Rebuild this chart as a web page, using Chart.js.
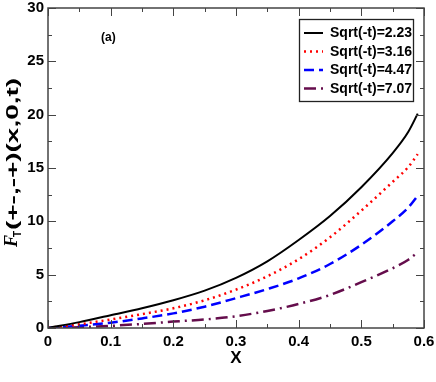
<!DOCTYPE html>
<html>
<head>
<meta charset="utf-8">
<script src="https://cdn.jsdelivr.net/npm/chart.js@4.4.1/dist/chart.umd.min.js"></script>
<style>
  html, body { margin: 0; padding: 0; background: #fff; }
  #wrap { width: 436px; height: 382px; }
</style>
</head>
<body>
<div id="wrap"><canvas id="ftChart" width="436" height="382"></canvas></div>
<script>
// x values and curves
var xs = [0, 0.05, 0.1, 0.15, 0.2, 0.25, 0.3, 0.35, 0.4, 0.45, 0.5, 0.55, 0.575, 0.59];
var t223 = [0, 0.55, 1.2, 1.85, 2.6, 3.5, 4.7, 6.25, 8.25, 10.5, 13.2, 16.4, 18.4, 20.1];
var t316 = [0, 0.35, 0.8, 1.3, 1.85, 2.6, 3.6, 4.85, 6.45, 8.5, 11.0, 13.7, 15.1, 16.3];
var t447 = [0, 0.2, 0.5, 0.9, 1.37, 2.0, 2.8, 3.65, 4.65, 6.0, 7.8, 10.0, 11.3, 12.4];
var t707 = [0, 0.08, 0.2, 0.38, 0.6, 0.8, 1.1, 1.6, 2.25, 3.1, 4.3, 5.6, 6.4, 7.1];
var seriesNames = ['Sqrt(-t)=2.23', 'Sqrt(-t)=3.16', 'Sqrt(-t)=4.47', 'Sqrt(-t)=7.07'];
var xTicks = [0, 0.1, 0.2, 0.3, 0.4, 0.5, 0.6];
var yTicks = [0, 5, 10, 15, 20, 25, 30];

var FONT = '"Liberation Sans", Arial, sans-serif';

function pts(ys) {
    return xs.map(function (x, i) { return { x: x, y: ys[i] }; });
}

var styles = [
    { color: '#000000', dash: [], width: 2 },
    { color: '#ff0000', dash: [2, 4], width: 2.5 },
    { color: '#0000ff', dash: [10, 5], width: 2.5 },
    { color: '#650d4c', dash: [12, 5, 2, 5], width: 2.5 }
];

var datasets = [t223, t316, t447, t707].map(function (ys, i) {
    return {
        label: seriesNames[i],
        data: pts(ys),
        borderColor: styles[i].color,
        backgroundColor: styles[i].color,
        borderDash: styles[i].dash,
        borderWidth: styles[i].width,
        pointRadius: 0,
        cubicInterpolationMode: 'monotone',
        fill: false
    };
});

// frame, inward ticks, legend box, labels
var decor = {
    id: 'decor',
    afterDatasetsDraw: function (chart) {
        var c = chart.ctx, a = chart.chartArea;
        var sx = chart.scales.x, sy = chart.scales.y;
        c.save();
        c.strokeStyle = '#444';
        c.lineWidth = 1.5;
        c.strokeRect(a.left, a.top, a.right - a.left, a.bottom - a.top);
        c.lineWidth = 1;
        for (var v = 0; v <= 0.6001; v += 0.05) {
            var px = Math.round(sx.getPixelForValue(v)) + 0.5;
            var major = Math.abs(v * 10 - Math.round(v * 10)) < 1e-6;
            var len = major ? 8 : 4;
            c.beginPath();
            c.moveTo(px, a.bottom); c.lineTo(px, a.bottom - len);
            c.moveTo(px, a.top); c.lineTo(px, a.top + len);
            c.stroke();
        }
        for (var w = 0; w <= 30.001; w += 2.5) {
            var py = Math.round(sy.getPixelForValue(w)) + 0.5;
            var maj = Math.abs(w / 5 - Math.round(w / 5)) < 1e-6;
            var l2 = maj ? 8 : 4;
            c.beginPath();
            c.moveTo(a.left, py); c.lineTo(a.left + l2, py);
            c.moveTo(a.right, py); c.lineTo(a.right - l2, py);
            c.stroke();
        }

        // legend
        var lx = 299, ly = 19, lw = 114, lh = 82;
        c.fillStyle = '#fff';
        c.fillRect(lx, ly, lw, lh);
        c.strokeStyle = '#222';
        c.lineWidth = 1.3;
        c.strokeRect(lx + 0.5, ly + 0.5, lw, lh);
        chart.data.datasets.forEach(function (ds, i) {
            var yy = 33 + i * 18.5;
            c.beginPath();
            c.strokeStyle = ds.borderColor;
            c.lineWidth = ds.borderWidth;
            c.setLineDash(ds.borderDash);
            c.moveTo(304, yy); c.lineTo(323, yy);
            c.stroke();
            c.setLineDash([]);
            c.fillStyle = '#000';
            c.font = 'bold 14px ' + FONT;
            c.textBaseline = 'middle';
            c.textAlign = 'left';
            c.fillText(ds.label, 330, yy + 0.5);
        });

        // panel label
        c.fillStyle = '#000';
        c.font = 'bold 12px ' + FONT;
        c.textBaseline = 'alphabetic';
        c.fillText('(a)', 101, 41);

        // x title
        c.font = 'bold 17px ' + FONT;
        c.textAlign = 'center';
        c.fillText('X', 236, 363);

        // y title, rotated
        c.translate(18, 247);
        c.rotate(-Math.PI / 2);
        c.textAlign = 'left';
        c.font = 'italic bold 18px "Liberation Serif", "Times New Roman", serif';
        c.fillText('F', 0, -1);
        var fw = c.measureText('F').width;
        c.font = 'bold 10px ' + FONT;
        c.fillText('T', fw - 2, 3);
        c.font = 'bold 16px ' + FONT;
        var txt = '(+-,-+)(x,0,t)';
        var tw = c.measureText(txt).width;
        c.translate(fw + 5, 0);
        c.scale(152 / tw, 1);
        c.fillText(txt, 0, 0);
        c.restore();
    }
};

var ctx = document.getElementById('ftChart').getContext('2d');
var ftChart = new Chart(ctx, {
    type: 'line',
    data: { datasets: datasets },
    options: {
        responsive: false,
        animation: false,
        events: [],
        layout: { padding: { left: 0, top: 8, right: 12, bottom: 0 } },
        scales: {
            x: {
                type: 'linear',
                min: 0,
                max: 0.6,
                afterBuildTicks: function (s) { s.ticks = xTicks.map(function (v) { return { value: v }; }); },
                afterFit: function (s) { s.height = 54; s.paddingRight = 0; s.paddingLeft = 0; },
                grid: { display: false, drawTicks: false },
                border: { display: false },
                ticks: {
                    color: '#000',
                    padding: 5,
                    maxRotation: 0,
                    font: { family: FONT, size: 15, weight: 'bold' },
                    callback: function (v) { return String(Math.round(v * 10) / 10); }
                }
            },
            y: {
                min: 0,
                max: 30,
                afterBuildTicks: function (s) { s.ticks = yTicks.map(function (v) { return { value: v }; }); },
                afterFit: function (s) { s.width = 48; s.paddingTop = 0; s.paddingBottom = 0; },
                grid: { display: false, drawTicks: false },
                border: { display: false },
                ticks: {
                    color: '#000',
                    padding: 4,
                    font: { family: FONT, size: 15, weight: 'bold' }
                }
            }
        },
        plugins: {
            legend: { display: false },
            tooltip: { enabled: false }
        }
    },
    plugins: [decor]
});
</script>
</body>
</html>
